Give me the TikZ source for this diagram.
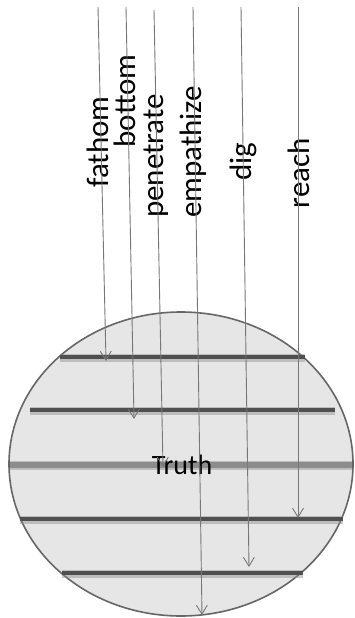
\documentclass[tikz,border=0pt]{standalone}
\usepackage{fontspec}
\setmainfont{Carlito}
\usetikzlibrary{arrows.meta}
\definecolor{ellfill}{HTML}{E6E6E6}
\definecolor{ellline}{HTML}{666666}
\definecolor{barcol}{HTML}{505050}
\definecolor{barhalo}{HTML}{8C8C8C}
\definecolor{arrcol}{HTML}{777777}
\begin{document}
\begin{tikzpicture}[x=1pt,y=-1pt,
  arr/.style={draw=arrcol, line width=0.9pt, -{Straight Barb[length=9pt,width=11pt]}},
  lab/.style={rotate=90, inner sep=0pt, font=\fontsize{31}{36}\selectfont, text=black},
  barhalo/.style={draw=barhalo, line width=8pt, opacity=0.45},
  bardark/.style={draw=barcol, line width=4pt},
  barlight/.style={draw=barhalo, line width=6.5pt}]
\useasboundingbox (0,0) rectangle (355,618);
% ellipse
\path[fill=ellfill, draw=ellline, line width=1.6pt] (181,464) ellipse [x radius=172, y radius=152];
% bars
\coordinate (b1l) at (60,357);  \coordinate (b1r) at (305,357);
\coordinate (b2l) at (30,410);  \coordinate (b2r) at (335,410);
\coordinate (b3l) at (10,465);  \coordinate (b3r) at (352,465);
\coordinate (b4l) at (20,519);  \coordinate (b4r) at (343,519);
\coordinate (b5l) at (62,573);  \coordinate (b5r) at (303,573);
\foreach \b in {b1,b2,b4,b5}{
  \draw[barhalo] ([yshift=-0.8pt]\b l) -- ([yshift=-0.8pt]\b r);
  \draw[bardark] (\b l) -- (\b r);
}
\draw[barhalo, line width=9pt] (b3l) -- (b3r);
\draw[barlight] (b3l) -- (b3r);
% truth label
\node[inner sep=0pt, font=\fontsize{28}{32}\selectfont] (truth) at (182,465) {Truth};
% labels
\node[lab] (fathom) at (98,142) {fathom};
\node[lab] (bottom) at (125,101) {bottom};
\node[lab] (penetrate) at (156,156) {penetrate};
\node[lab] (empathize) at (193,152) {empathize};
\node[lab] (dig) at (243,162) {dig};
\node[lab] (reach) at (299,173) {reach};
% arrows
\coordinate (fs) at (98,7);   \coordinate (fe) at (106,361);
\coordinate (bs) at (126,7);  \coordinate (be) at (134,419);
\coordinate (ps) at (154,10); \coordinate (pe) at (163,467);
\coordinate (es) at (193,7);  \coordinate (ee) at (202,615);
\coordinate (ds) at (241,7);  \coordinate (de) at (249,567);
\coordinate (rs) at (298,7);  \coordinate (re) at (298,518);
\draw[arr] (fs) -- (fe);
\draw[arr] (bs) -- (be);
\draw[arr] (ps) -- (pe);
\draw[arr] (es) -- (ee);
\draw[arr] (ds) -- (de);
\draw[arr] (rs) -- (re);
\end{tikzpicture}
\end{document}
